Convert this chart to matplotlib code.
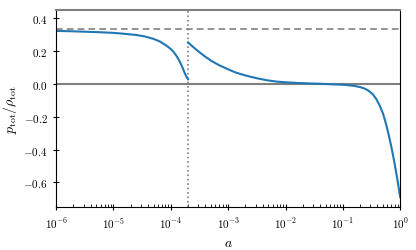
import numpy as np
import matplotlib
matplotlib.use("Agg")
import matplotlib.pyplot as plt
from matplotlib.ticker import FuncFormatter, LogLocator, NullFormatter

plt.rcParams['mathtext.fontset'] = 'cm'
plt.rcParams['font.family'] = 'serif'

# values (log10 of a, and p_tot/rho_tot)
loga_early = [-6.0, -5.75, -5.5, -5.25, -5.0, -4.8, -4.6, -4.45, -4.3, -4.2,
              -4.13, -4.06, -4.0, -3.95, -3.90, -3.86, -3.82, -3.79, -3.76,
              -3.73, -3.70]
w_early = [0.323, 0.321, 0.318, 0.315, 0.311, 0.305, 0.298, 0.289, 0.274, 0.260,
           0.245, 0.229, 0.212, 0.194, 0.170, 0.146, 0.118, 0.094, 0.068,
           0.045, 0.028]

loga_late = [-3.70, -3.65, -3.60, -3.53, -3.46, -3.38, -3.30, -3.22, -3.14, -3.05,
             -2.96, -2.88, -2.80, -2.70, -2.58, -2.45, -2.30, -2.15, -2.0, -1.8,
             -1.6, -1.4, -1.2, -1.0, -0.9, -0.8, -0.7, -0.62, -0.55, -0.48,
             -0.42, -0.36, -0.30, -0.25, -0.20, -0.15, -0.10, -0.05, 0.0]
w_late = [0.253, 0.237, 0.222, 0.201, 0.182, 0.161, 0.142, 0.126, 0.111, 0.097,
          0.083, 0.071, 0.062, 0.052, 0.041, 0.031, 0.021, 0.014, 0.010, 0.006,
          0.003, 0.001, -0.002, -0.005, -0.008, -0.012, -0.019, -0.028, -0.042, -0.062,
          -0.09, -0.13, -0.18, -0.24, -0.31, -0.39, -0.48, -0.58, -0.69]

x_ticks = [1e-6, 1e-5, 1e-4, 1e-3, 1e-2, 1e-1, 1e0]
y_ticks = [-0.6, -0.4, -0.2, 0.0, 0.2, 0.4]

a_transition = 2e-4
w_radiation = 1 / 3

fig = plt.figure(figsize=(4.16, 2.51), dpi=100)
ax = fig.add_axes([0.135, 0.171, 0.827, 0.785])

ax.axhline(w_radiation, color='gray', ls='--', lw=1.2, dashes=(4, 2.5))
ax.axhline(0, color='gray', lw=1.5)
ax.axvline(a_transition, color='gray', ls=':', lw=1.2)

ax.plot(10 ** np.array(loga_early), w_early, color='#1f77b4', lw=1.5)
ax.plot(10 ** np.array(loga_late), w_late, color='#1f77b4', lw=1.5)

ax.set_xscale('log')
ax.set_xlim(1e-6, 1)
ax.set_ylim(-0.75, 0.45)
ax.set_xticks(x_ticks)
ax.set_xticklabels([r'$10^{%d}$' % int(round(np.log10(t))) for t in x_ticks])
ax.set_yticks(y_ticks)
ax.yaxis.set_major_formatter(FuncFormatter(lambda v, p: r'$%.1f$' % v))
ax.xaxis.set_minor_locator(LogLocator(base=10, subs=np.arange(2, 10), numticks=20))
ax.xaxis.set_minor_formatter(NullFormatter())

ax.tick_params(which='major', direction='inout', length=5, width=0.8, labelsize=8)
ax.tick_params(which='minor', direction='in', length=2.5, width=0.6)
ax.spines['top'].set_color('gray')
ax.spines['top'].set_linewidth(1.5)

ax.set_xlabel(r'$a$', fontsize=10, labelpad=3)
ax.set_ylabel(r'$p_{\rm tot}/\rho_{\rm tot}$', fontsize=10, labelpad=3)

fig.savefig('out.png', dpi=100)
